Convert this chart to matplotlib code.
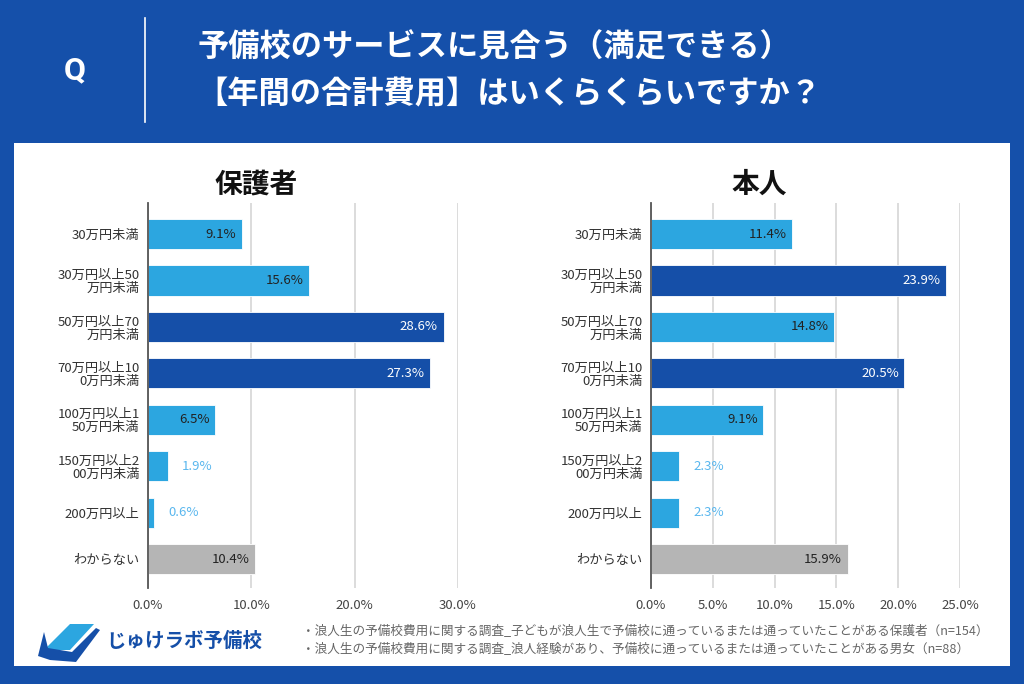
import matplotlib.pyplot as plt
from matplotlib.patches import Rectangle, Polygon
from matplotlib.lines import Line2D

plt.rcParams['font.family'] = ['Noto Sans CJK JP', 'DejaVu Sans']

categories = ["30万円未満", "30万円以上50\n万円未満", "50万円以上70\n万円未満", "70万円以上10\n0万円未満",
              "100万円以上1\n50万円未満", "150万円以上2\n00万円未満", "200万円以上", "わからない"]
parent_vals = [9.1, 15.6, 28.6, 27.3, 6.5, 1.9, 0.6, 10.4]
student_vals = [11.4, 23.9, 14.8, 20.5, 9.1, 2.3, 2.3, 15.9]
parent_dark = [2, 3]
student_dark = [1, 3]
parent_ticks = [0, 10, 20, 30]
student_ticks = [0, 5, 10, 15, 20, 25]

BG = "#1550AA"
LIGHT = "#2CA6E0"
DARK = "#154FA8"
GRAY = "#B5B5B5"

fig = plt.figure(figsize=(10.24, 6.84), dpi=100)
fig.patch.set_facecolor(BG)

# white panel
fig.patches.append(Rectangle((14 / 1024, 1 - 666 / 684), 996 / 1024, 523 / 684,
                             transform=fig.transFigure, facecolor="white", edgecolor="none", zorder=-5))

# header
fig.text(75 / 1024, 1 - 70 / 684, "Q", color="white", fontsize=23, fontweight="bold",
         ha="center", va="center", family=["Roboto", "DejaVu Sans"])
fig.add_artist(Line2D([145 / 1024, 145 / 1024], [1 - 18 / 684, 1 - 122 / 684], color="white", lw=1.2))
fig.text(198 / 1024, 1 - 48 / 684, "予備校のサービスに見合う（満足できる）", color="white",
         fontsize=22.5, fontweight="bold", ha="left", va="center")
fig.text(196 / 1024, 1 - 94 / 684, "【年間の合計費用】はいくらくらいですか？", color="white",
         fontsize=22.5, fontweight="bold", ha="left", va="center")


def draw_panel(rect, vals, dark_idx, ticks, xmax, title):
    ax = fig.add_axes(rect)
    ax.set_facecolor("none")
    colors = []
    for i in range(len(vals)):
        if i == len(vals) - 1:
            colors.append(GRAY)
        elif i in dark_idx:
            colors.append(DARK)
        else:
            colors.append(LIGHT)
    ypos = list(range(len(vals)))
    ax.barh(ypos, vals, height=0.65, color=colors, edgecolor="white", linewidth=0.6, zorder=3)
    for i, v in enumerate(vals):
        label = f"{v:.1f}%"
        if v < 5:
            ax.annotate(label, (v, i), xytext=(10, 0), textcoords="offset points",
                        ha="left", va="center", fontsize=9.5, color="#5AB7EE")
        else:
            tc = "white" if i in dark_idx else "#222222"
            ax.annotate(label, (v, i), xytext=(-4, 0), textcoords="offset points",
                        ha="right", va="center", fontsize=9.5, color=tc)
    ax.set_xlim(0, xmax)
    ax.set_ylim(7.62, -0.67)
    ax.set_xticks(ticks)
    ax.set_xticklabels([f"{t:.1f}%" for t in ticks], fontsize=9.5, color="#444444")
    ax.set_yticks(ypos)
    ax.set_yticklabels(categories, fontsize=9.5, color="#333333", linespacing=1.0)
    ax.tick_params(axis="both", length=0, pad=6)
    ax.tick_params(axis="x", pad=8)
    ax.xaxis.grid(True, color="#D9D9D9", lw=1.3, zorder=0)
    ax.set_axisbelow(True)
    for s in ["top", "right", "bottom"]:
        ax.spines[s].set_visible(False)
    ax.spines["left"].set_color("#555555")
    ax.spines["left"].set_linewidth(1.3)
    ax.spines["left"].set_zorder(4)
    fig.text(rect[0] + rect[2] * 0.35, 1 - 185 / 684, title, fontsize=20, fontweight="bold",
             color="#111111", ha="center", va="center")
    return ax


ax_h = 0.563
ax_y = 1 - 588 / 684
draw_panel([148 / 1024, ax_y, 310 / 1024, ax_h], parent_vals, parent_dark, parent_ticks, 30, "保護者")
draw_panel([651 / 1024, ax_y, 309 / 1024, ax_h], student_vals, student_dark, student_ticks, 25, "本人")

# logo
icon_back = Polygon([(44 / 1024, 1 - 650 / 684), (70 / 1024, 1 - 624 / 684), (94 / 1024, 1 - 624 / 684),
                     (70 / 1024, 1 - 650 / 684)], closed=True, transform=fig.transFigure,
                    facecolor=LIGHT, edgecolor="none", zorder=1)
icon_base = Polygon([(38 / 1024, 1 - 656 / 684), (44 / 1024, 1 - 632 / 684), (48 / 1024, 1 - 648 / 684),
                     (72 / 1024, 1 - 652 / 684), (96 / 1024, 1 - 628 / 684), (100 / 1024, 1 - 630 / 684),
                     (76 / 1024, 1 - 662 / 684), (50 / 1024, 1 - 660 / 684)], closed=True,
                    transform=fig.transFigure, facecolor=DARK, edgecolor="none", zorder=1)
fig.patches.extend([icon_back, icon_base])
fig.text(106 / 1024, 1 - 641 / 684, "じゅけラボ予備校", fontsize=14, fontweight="bold",
         color=DARK, ha="left", va="center")

# notes
fig.text(302 / 1024, 1 - 632 / 684,
         "・浪人生の予備校費用に関する調査_子どもが浪人生で予備校に通っているまたは通っていたことがある保護者（n=154）",
         fontsize=9.1, color="#666666", ha="left", va="center")
fig.text(302 / 1024, 1 - 650 / 684,
         "・浪人生の予備校費用に関する調査_浪人経験があり、予備校に通っているまたは通っていたことがある男女（n=88）",
         fontsize=9.1, color="#666666", ha="left", va="center")

fig.savefig("out.png", dpi=100, facecolor=fig.get_facecolor())
